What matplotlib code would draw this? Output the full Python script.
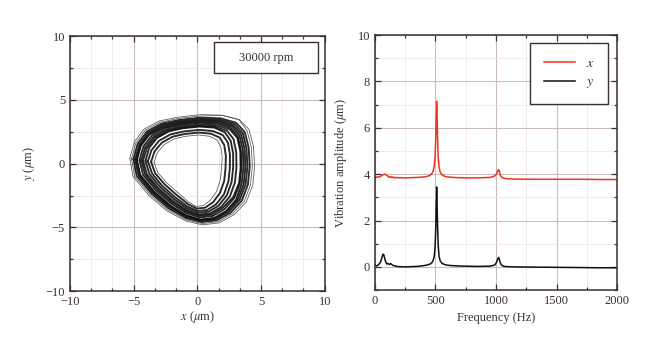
import matplotlib
matplotlib.use("Agg")
import matplotlib.pyplot as plt
from matplotlib.ticker import MultipleLocator
from matplotlib.patches import Rectangle

# --- orbit at 30000 rpm: loops (x, y in um), inner -> outer ---
orbit_x = [
    [-3.40, -3.15, -2.60, -1.80, -0.90, 0.10, 0.95, 1.55, 1.85, 1.95, 1.90, 1.80, 1.50, 1.00, 0.45, -0.10, -0.70, -1.50, -2.40, -3.10],
    [-3.63, -3.37, -2.79, -1.94, -0.97, 0.12, 1.08, 1.76, 2.11, 2.24, 2.21, 2.11, 1.78, 1.23, 0.60, -0.04, -0.72, -1.61, -2.57, -3.32],
    [-3.88, -3.60, -3.00, -2.10, -1.05, 0.15, 1.21, 1.99, 2.40, 2.56, 2.55, 2.44, 2.09, 1.48, 0.76, 0.03, -0.75, -1.73, -2.75, -3.55],
    [-4.07, -3.78, -3.16, -2.22, -1.11, 0.17, 1.32, 2.16, 2.62, 2.81, 2.81, 2.69, 2.32, 1.67, 0.89, 0.08, -0.77, -1.82, -2.89, -3.76],
    [-4.26, -3.96, -3.32, -2.34, -1.17, 0.19, 1.42, 2.34, 2.84, 3.05, 3.07, 2.95, 2.56, 1.86, 1.01, 0.13, -0.79, -1.91, -3.03, -3.96],
    [-4.39, -4.09, -3.43, -2.42, -1.21, 0.20, 1.50, 2.56, 3.14, 3.37, 3.40, 3.28, 2.82, 1.99, 1.10, 0.16, -0.80, -1.97, -3.13, -4.10],
    [-4.54, -4.23, -3.56, -2.52, -1.26, 0.22, 1.58, 2.60, 3.17, 3.42, 3.46, 3.33, 2.91, 2.14, 1.20, 0.20, -0.82, -2.04, -3.24, -4.26],
    [-4.75, -4.44, -3.76, -2.59, -1.30, 0.23, 1.64, 2.71, 3.30, 3.57, 3.62, 3.48, 3.05, 2.25, 1.28, 0.23, -0.83, -2.09, -3.37, -4.48],
    [-4.77, -4.45, -3.75, -2.66, -1.33, 0.24, 1.71, 2.81, 3.43, 3.71, 3.77, 3.64, 3.19, 2.37, 1.35, 0.26, -0.84, -2.15, -3.41, -4.50],
    [-4.88, -4.55, -3.85, -2.74, -1.37, 0.26, 1.77, 2.92, 3.57, 3.86, 3.93, 3.79, 3.33, 2.48, 1.43, 0.29, -0.86, -2.20, -3.49, -4.62],
    [-5.02, -4.68, -3.96, -2.82, -1.41, 0.27, 1.84, 3.04, 3.72, 4.03, 4.11, 3.97, 3.50, 2.62, 1.51, 0.33, -0.87, -2.27, -3.59, -4.76],
    [-5.17, -4.82, -4.09, -2.92, -1.46, 0.29, 1.93, 3.28, 3.90, 4.23, 4.32, 4.17, 3.69, 2.77, 1.61, 0.37, -0.89, -2.34, -3.70, -4.92],
    [-5.30, -4.95, -4.20, -3.00, -1.50, 0.30, 2.00, 3.30, 4.05, 4.40, 4.50, 4.35, 3.85, 2.90, 1.70, 0.40, -0.90, -2.40, -3.80, -5.05],
]
orbit_y = [
    [0.10, 0.85, 1.50, 1.95, 2.15, 2.25, 2.15, 1.85, 1.30, 0.50, -0.40, -1.30, -2.20, -2.90, -3.30, -3.35, -3.00, -2.30, -1.50, -0.70],
    [0.14, 0.95, 1.64, 2.12, 2.33, 2.44, 2.35, 2.04, 1.47, 0.61, -0.38, -1.35, -2.30, -3.03, -3.46, -3.52, -3.18, -2.47, -1.62, -0.74],
    [0.18, 1.06, 1.80, 2.30, 2.53, 2.65, 2.56, 2.25, 1.65, 0.73, -0.35, -1.40, -2.40, -3.18, -3.64, -3.71, -3.38, -2.65, -1.75, -0.78],
    [0.21, 1.25, 2.02, 2.54, 2.78, 2.91, 2.83, 2.46, 1.79, 0.82, -0.33, -1.44, -2.48, -3.29, -3.77, -3.86, -3.53, -2.79, -1.85, -0.81],
    [0.24, 1.23, 2.04, 2.58, 2.83, 2.97, 2.89, 2.57, 1.93, 0.91, -0.31, -1.48, -2.56, -3.40, -3.91, -4.00, -3.68, -2.93, -1.95, -0.84],
    [0.26, 1.29, 2.12, 2.68, 2.93, 3.08, 3.01, 2.68, 2.03, 0.97, -0.30, -1.51, -2.62, -3.47, -4.00, -4.10, -3.78, -3.03, -2.02, -0.86],
    [0.28, 1.36, 2.22, 2.79, 3.05, 3.21, 3.14, 2.81, 2.14, 1.04, -0.28, -1.54, -2.68, -3.56, -4.11, -4.22, -3.90, -3.14, -2.10, -0.88],
    [0.30, 1.41, 2.29, 2.87, 3.14, 3.31, 3.24, 2.91, 2.22, 1.09, -0.27, -1.56, -2.83, -3.73, -4.29, -4.41, -4.09, -3.32, -2.21, -0.90],
    [0.32, 1.46, 2.36, 2.96, 3.23, 3.40, 3.34, 3.00, 2.31, 1.15, -0.26, -1.59, -2.78, -3.69, -4.27, -4.39, -4.08, -3.31, -2.22, -0.92],
    [0.33, 1.51, 2.44, 3.04, 3.32, 3.50, 3.44, 3.10, 2.39, 1.20, -0.24, -1.61, -2.82, -3.76, -4.35, -4.48, -4.17, -3.39, -2.28, -0.93],
    [0.36, 1.57, 2.52, 3.14, 3.43, 3.61, 3.55, 3.21, 2.49, 1.27, -0.23, -1.64, -2.88, -3.84, -4.45, -4.58, -4.28, -3.49, -2.35, -0.96],
    [0.38, 1.64, 2.62, 3.25, 3.55, 3.74, 3.78, 3.44, 2.60, 1.34, -0.21, -1.67, -2.94, -3.92, -4.56, -4.70, -4.40, -3.60, -2.43, -0.98],
    [0.40, 1.70, 2.70, 3.35, 3.65, 3.85, 3.80, 3.45, 2.70, 1.40, -0.20, -1.70, -3.00, -4.00, -4.65, -4.80, -4.50, -3.70, -2.50, -1.00],
]

# --- spectrum ---
freq_x = [0, 10, 20, 30, 40, 50, 60, 70, 80, 90, 100, 110, 120, 130, 140, 150, 160, 175, 190, 210,
          250, 300, 350, 400, 430, 455, 470, 480, 490, 497, 503, 507, 510, 513, 517, 522, 530, 540,
          555, 580, 620, 680, 750, 850, 950, 990, 1005, 1015, 1022, 1028, 1035, 1045, 1060, 1090,
          1150, 1300, 1500, 1700, 1850, 2000]
amp_x = [3.84, 3.88, 3.86, 3.90, 3.88, 3.92, 3.95, 3.98, 4.00, 3.98, 3.95, 3.90, 3.86, 3.90, 3.85,
         3.88, 3.84, 3.86, 3.84, 3.85, 3.84, 3.85, 3.86, 3.88, 3.90, 3.95, 4.02, 4.12, 4.35, 4.75,
         5.60, 6.60, 7.15, 6.70, 5.70, 4.80, 4.30, 4.08, 3.97, 3.90, 3.87, 3.85, 3.84, 3.84, 3.86,
         3.92, 4.02, 4.15, 4.20, 4.12, 3.98, 3.88, 3.83, 3.80, 3.79, 3.78, 3.78, 3.78, 3.77, 3.77]

freq_y = [0, 10, 20, 30, 40, 50, 58, 65, 70, 75, 82, 90, 100, 110, 120, 130, 140, 150, 165, 180,
          200, 250, 300, 350, 400, 430, 455, 470, 480, 490, 497, 503, 507, 510, 513, 517, 522, 530,
          540, 555, 580, 620, 680, 750, 850, 950, 990, 1005, 1015, 1022, 1028, 1035, 1045, 1060,
          1090, 1150, 1300, 1500, 1700, 1850, 2000]
amp_y = [0.10, 0.04, 0.05, 0.10, 0.15, 0.25, 0.40, 0.52, 0.55, 0.50, 0.35, 0.20, 0.12, 0.15, 0.10,
         0.14, 0.10, 0.06, 0.04, 0.02, 0.01, 0.00, 0.01, 0.02, 0.05, 0.08, 0.12, 0.18, 0.26, 0.45,
         0.85, 1.70, 2.80, 3.45, 2.90, 1.90, 1.00, 0.45, 0.25, 0.15, 0.09, 0.06, 0.04, 0.03, 0.02,
         0.03, 0.08, 0.20, 0.35, 0.41, 0.32, 0.18, 0.08, 0.03, 0.01, 0.00, -0.01, -0.02, -0.03,
         -0.04, -0.04]

ink = '#3a302e'
plt.rcParams['font.family'] = ['Liberation Serif', 'DejaVu Serif']
plt.rcParams['mathtext.fontset'] = 'stix'
plt.rcParams['font.size'] = 9
plt.rcParams['text.color'] = ink
plt.rcParams['axes.labelcolor'] = ink
plt.rcParams['xtick.color'] = ink
plt.rcParams['ytick.color'] = ink

fig = plt.figure(figsize=(6.6, 3.55), dpi=100)
ax1 = fig.add_axes([0.106, 0.180, 0.386, 0.718])
ax2 = fig.add_axes([0.568, 0.183, 0.367, 0.718])


def style_axes(ax):
    for s in ax.spines.values():
        s.set_color(ink)
        s.set_linewidth(1.1)
    ax.tick_params(which='both', direction='in', top=True, right=True, width=0.9)
    ax.tick_params(which='major', length=4)
    ax.tick_params(which='minor', length=2.5)
    ax.grid(True, which='major', color='#cbbdb9', linewidth=0.8)
    ax.grid(True, which='minor', color='#f0e8e8', linewidth=0.6)
    ax.set_axisbelow(True)


# --- left: orbit ---
n_loops = len(orbit_x)
for i, (lx, ly) in enumerate(zip(orbit_x, orbit_y)):
    # innermost / outermost passes are thin grey strokes, the rest make the dark band
    edge = i == 0 or i >= n_loops - 2
    ax1.plot(lx + lx[:1], ly + ly[:1], color='#505050' if edge else '#111111',
             linewidth=0.6 if edge else 1.35, alpha=0.9,
             solid_joinstyle='round', solid_capstyle='round')
ax1.set_xlim(-10, 10)
ax1.set_ylim(-10, 10)
ax1.xaxis.set_major_locator(MultipleLocator(5))
ax1.xaxis.set_minor_locator(MultipleLocator(5 / 3))
ax1.yaxis.set_major_locator(MultipleLocator(5))
ax1.yaxis.set_minor_locator(MultipleLocator(2.5))
ax1.set_xlabel(r'$x$ ($\mu$m)', labelpad=1)
ax1.set_ylabel(r'$y$ ($\mu$m)', labelpad=6)
style_axes(ax1)
ax1.add_patch(Rectangle((0.565, 0.855), 0.408, 0.121, transform=ax1.transAxes,
                        facecolor='white', edgecolor=ink, linewidth=1.0, zorder=5))
ax1.text(0.769, 0.9155, '30000 rpm', transform=ax1.transAxes, ha='center', va='center', zorder=6)

# --- right: spectrum ---
ax2.plot(freq_x, amp_x, color='#ee3322', linewidth=1.1, label='$x$')
ax2.plot(freq_y, amp_y, color='#111111', linewidth=1.1, label='$y$')
ax2.set_xlim(0, 2000)
ax2.set_ylim(-1, 10)
ax2.xaxis.set_major_locator(MultipleLocator(500))
ax2.xaxis.set_minor_locator(MultipleLocator(250))
ax2.yaxis.set_major_locator(MultipleLocator(2))
ax2.yaxis.set_minor_locator(MultipleLocator(1))
ax2.set_xlabel('Frequency (Hz)', labelpad=4)
ax2.set_ylabel(r'Vibration amplitude ($\mu$m)', labelpad=6)
style_axes(ax2)
leg = ax2.legend(loc='upper right', bbox_to_anchor=(0.963, 0.969), borderaxespad=0,
                 fancybox=False, edgecolor=ink, framealpha=1, handlelength=2.2,
                 handletextpad=0.8, borderpad=1.0, labelspacing=0.4, fontsize=10)
leg.get_frame().set_linewidth(1.0)
for t in leg.get_texts():
    t.set_color(ink)

fig.savefig('out.png', dpi=100)
